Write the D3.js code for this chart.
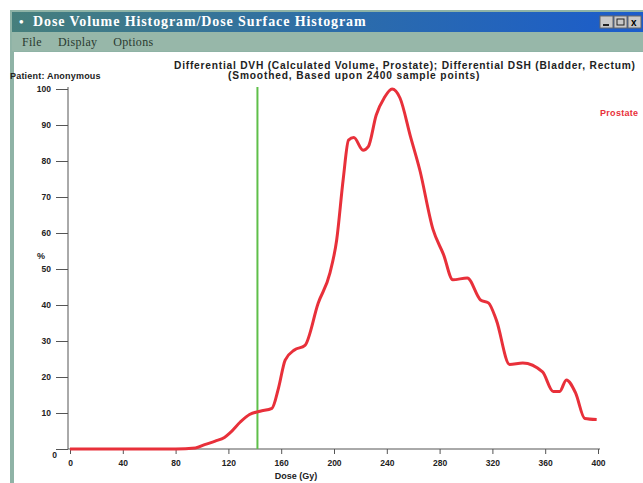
<!DOCTYPE html>
<html><head><meta charset="utf-8">
<script src="https://cdn.jsdelivr.net/npm/d3@7"></script>
<style>
html,body{margin:0;padding:0;background:#fff;}
svg{display:block;}
</style></head>
<body>
<svg id="c" width="643" height="483"></svg>
<script>
// ---- data ----
const windowTitle = "Dose Volume Histogram/Dose Surface Histogram";
const menuItems = ["File", "Display", "Options"];
const chartTitle1 = "Differential DVH (Calculated Volume, Prostate); Differential DSH (Bladder, Rectum)";
const chartTitle2 = "(Smoothed, Based upon 2400 sample points)";
const patientLabel = "Patient: Anonymous";
const seriesName = "Prostate";
const xTicks = [0, 40, 80, 120, 160, 200, 240, 280, 320, 360, 400];
const yTicks = [0, 10, 20, 30, 40, 50, 60, 70, 80, 90, 100];
const markerDose = 142;
const doseGy = [0, 20, 40, 60, 80, 95, 102, 110, 117, 121, 129, 136, 144, 153, 158, 163, 170, 178, 188, 197, 202, 207, 211, 215, 222, 226, 232, 238, 244, 250, 258, 265, 275, 283, 290, 301, 311, 317, 323, 333, 343, 358, 366, 371, 376, 383, 390, 399];
const volumePct = [0, 0, 0, 0, 0, 0.3, 1.2, 2.2, 3.2, 4.4, 7.5, 9.6, 10.5, 11.3, 17, 24.7, 27.5, 28.8, 40.5, 49, 58, 75, 85.8, 86.5, 83, 84, 92.8, 97.5, 100, 97.5, 86.7, 77.5, 61, 54, 47, 47.5, 41.4, 40.6, 35.8, 23.5, 23.9, 21.4, 16, 16, 19.2, 15.6, 8.5, 8.2];

// ---- drawing ----
const svg = d3.select("#c");
const W = 643, H = 483;

// window chrome
const defs = svg.append("defs");
const g1 = defs.append("linearGradient").attr("id","tb").attr("x1","0").attr("x2","1");
g1.append("stop").attr("offset","0").attr("stop-color","#467f7c");
g1.append("stop").attr("offset","0.45").attr("stop-color","#2f6fa4");
g1.append("stop").attr("offset","1").attr("stop-color","#1b5ccc");

svg.append("rect").attr("x",10).attr("y",10).attr("width",W-10).attr("height",H-10).attr("fill","#8fb3a6");
svg.append("rect").attr("x",12).attr("y",12).attr("width",W-12).attr("height",20).attr("fill","url(#tb)");
svg.append("rect").attr("x",12).attr("y",32).attr("width",W-12).attr("height",19).attr("fill","#97b7a9");
svg.append("rect").attr("x",14).attr("y",52).attr("width",W-14).attr("height",H-52).attr("fill","#ffffff");

// title bar icon + text
svg.append("text").attr("x",19).attr("y",26).attr("fill","#fff").attr("font-family","Liberation Serif, serif")
  .attr("font-weight","bold").attr("font-size",13).text("\u2022");
svg.append("text").attr("x",33).attr("y",26).attr("fill","#fff").attr("font-family","Liberation Serif, serif")
  .attr("font-weight","bold").attr("font-size",14).attr("letter-spacing",0.9).text(windowTitle);
// window buttons
[600, 614, 628].forEach((bx,i) => {
  svg.append("rect").attr("x",bx).attr("y",16).attr("width",13).attr("height",12).attr("fill","#c8c8c8").attr("stroke","#666");
});
svg.append("rect").attr("x",603).attr("y",24).attr("width",6).attr("height",2).attr("fill","#222");
svg.append("rect").attr("x",617).attr("y",19).attr("width",7).attr("height",6).attr("fill","none").attr("stroke","#222");
svg.append("text").attr("x",631).attr("y",26).attr("font-size",10).attr("font-family","Liberation Sans").attr("font-weight","bold").text("x");

// menu
let mx = 22;
const menuG = svg.append("g");
menuItems.forEach(m => {
  const t = menuG.append("text").attr("x",mx).attr("y",46).attr("fill","#2a3a30")
    .attr("font-family","Liberation Serif, serif").attr("font-size",12).attr("letter-spacing",0.3).text(m);
  mx += t.node().getComputedTextLength() + 16;
});

// plot
const x = d3.scaleLinear().domain([0,400]).range([70,598]);
const y = d3.scaleLinear().domain([0,100]).range([449,89]);

const font = "Liberation Sans, Arial, sans-serif";

// y axis
const yAxis = d3.axisLeft(y).tickValues(yTicks).tickSize(12).tickPadding(5).tickFormat(d => d === 0 ? "" : d);
const ya = svg.append("g").attr("transform","translate(68,0)").call(yAxis);
ya.select(".domain").attr("stroke","#555").attr("d","M0,87V449");
ya.selectAll(".tick line").attr("stroke","#555");
ya.selectAll("text").attr("font-family",font).attr("font-size",8.5).attr("font-weight","bold").attr("fill","#222");
svg.append("text").attr("x",57).attr("y",458).attr("text-anchor","end").attr("font-family",font)
  .attr("font-size",8.5).attr("font-weight","bold").attr("fill","#222").text("0");

// x axis
const xAxis = d3.axisBottom(x).tickValues(xTicks).tickSize(5).tickPadding(6);
const xa = svg.append("g").attr("transform","translate(0,449)").call(xAxis);
xa.select(".domain").attr("stroke","#555").attr("d","M68,0H600");
xa.selectAll(".tick line").attr("stroke","#555");
xa.selectAll("text").attr("font-family",font).attr("font-size",8.5).attr("font-weight","bold").attr("fill","#222");

// axis labels
svg.append("text").attr("x",37).attr("y",259).attr("font-family",font).attr("font-size",9).attr("font-weight","bold").attr("fill","#222").text("%");
svg.append("text").attr("x",296).attr("y",479).attr("text-anchor","middle").attr("font-family",font).attr("font-size",9).attr("font-weight","bold").attr("fill","#222").text("Dose (Gy)");

// titles
svg.append("text").attr("x",174).attr("y",69).attr("font-family",font).attr("font-size",10.2).attr("letter-spacing",0.78).attr("font-weight","bold").attr("fill","#222").text(chartTitle1);
svg.append("text").attr("x",228).attr("y",79).attr("font-family",font).attr("font-size",10.2).attr("letter-spacing",0.85).attr("font-weight","bold").attr("fill","#222").text(chartTitle2);
svg.append("text").attr("x",10).attr("y",79).attr("font-family",font).attr("font-size",9).attr("letter-spacing",0.2).attr("font-weight","bold").attr("fill","#222").text(patientLabel);

// legend
svg.append("text").attr("x",600).attr("y",116).attr("font-family",font).attr("font-size",9).attr("letter-spacing",0.3).attr("font-weight","bold").attr("fill","#e8303a").text(seriesName);

// green marker line
svg.append("line").attr("x1",x(markerDose)).attr("x2",x(markerDose)).attr("y1",87).attr("y2",449)
  .attr("stroke","#5fbf4a").attr("stroke-width",2);

// curve
const pts = doseGy.map((d,i) => [d, volumePct[i]]);
const line = d3.line().x(d => x(d[0])).y(d => y(d[1])).curve(d3.curveMonotoneX);
svg.append("path").datum(pts).attr("d",line).attr("fill","none").attr("stroke","#e8303a")
  .attr("stroke-width",3).attr("stroke-linejoin","round");
</script>
</body></html>
